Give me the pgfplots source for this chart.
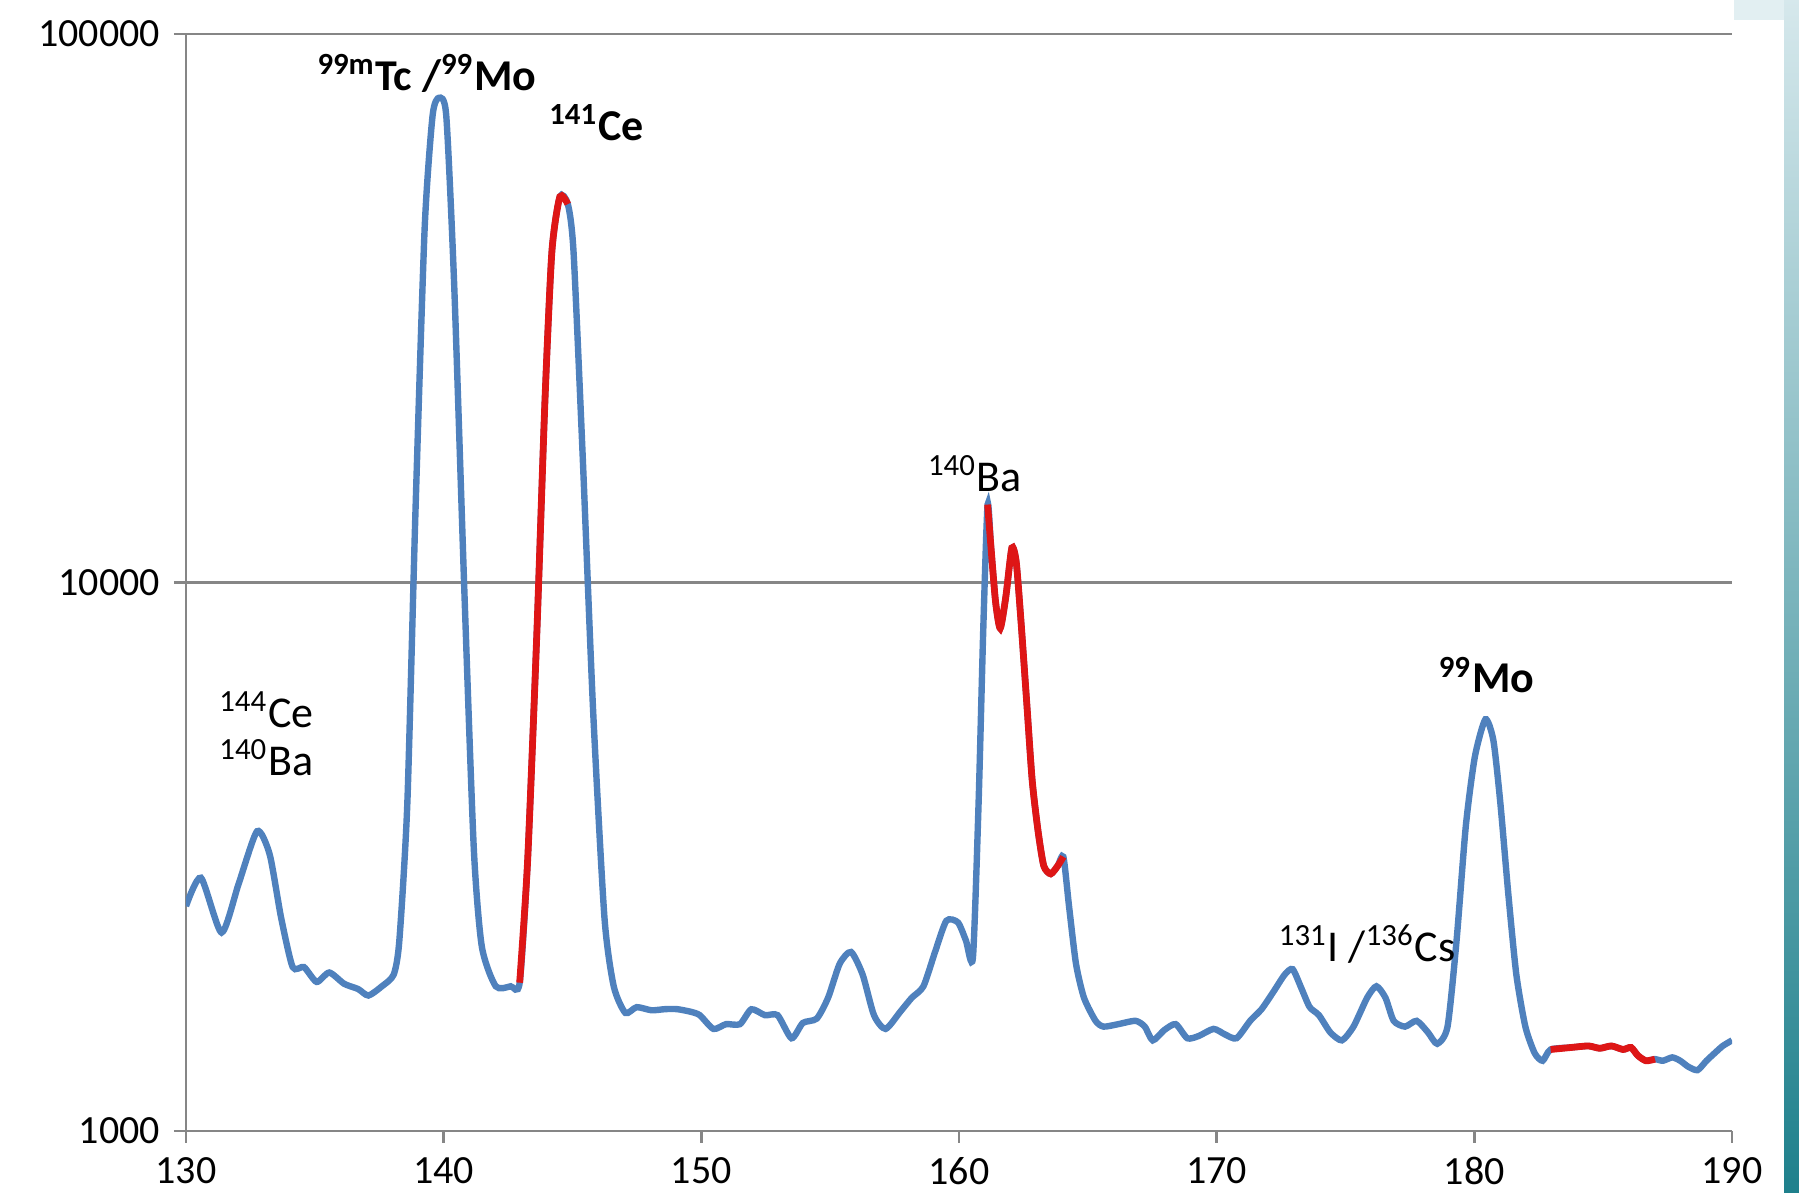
\documentclass[border=0pt]{standalone}
\usepackage{fontspec}
\setmainfont{Carlito}
\usepackage{pgfplots}
\usepackage{pgfplotstable}
\pgfplotsset{compat=1.18}

\definecolor{specblue}{RGB}{79,129,189}
\definecolor{specred}{RGB}{222,22,22}
\definecolor{gridgrey}{RGB}{134,134,134}
\definecolor{tealtop}{RGB}{214,232,236}
\definecolor{tealbot}{RGB}{30,128,140}

% gamma spectrum, counts vs channel energy
\pgfplotstableread{
x y
130.00 2570
130.58 2895
131.38 2300
132.05 2830
132.76 3520
133.25 3190
133.69 2450
134.14 1990
134.58 1990
135.07 1870
135.56 1945
136.14 1855
136.68 1815
137.08 1766
137.61 1837
138.06 1928
138.28 2225
138.59 3960
138.90 13200
139.26 44000
139.57 71000
139.82 76500
140.10 71000
140.41 34700
140.81 9440
141.17 3270
141.48 2170
142.02 1836
142.60 1836
142.95 1864
143.26 3120
143.62 8170
143.93 21400
144.20 40100
144.51 50500
144.82 48950
145.04 40100
145.40 16800
145.80 5840
146.24 2450
146.60 1836
147.05 1642
147.49 1682
148.07 1660
148.60 1668
149.05 1668
149.58 1650
149.94 1626
150.47 1535
150.96 1566
151.50 1566
151.94 1667
152.47 1626
152.96 1626
153.50 1476
153.94 1574
154.48 1603
154.92 1750
155.37 2018
155.81 2120
156.26 1928
156.70 1626
157.15 1535
157.73 1652
158.17 1750
158.62 1836
159.07 2120
159.51 2417
159.96 2400
160.27 2224
160.54 2070
160.76 3960
160.94 8170
161.11 13870
161.25 11450
161.42 9210
161.60 8250
161.82 9440
162.05 11560
162.22 10910
162.40 8570
162.62 6120
162.84 4360
163.07 3517
163.29 3043
163.56 2943
163.83 3043
164.05 3162
164.27 2570
164.54 2018
164.85 1750
165.30 1588
165.61 1550
166.18 1566
166.85 1588
167.21 1550
167.52 1463
167.97 1528
168.41 1566
168.86 1476
169.30 1490
169.88 1535
170.32 1500
170.77 1476
171.30 1588
171.74 1667
172.19 1790
172.64 1928
172.95 1972
173.30 1815
173.61 1682
173.97 1626
174.41 1513
174.86 1463
175.31 1550
175.84 1750
176.20 1836
176.55 1750
176.87 1588
177.31 1550
177.76 1588
178.20 1513
178.56 1442
178.96 1550
179.31 2224
179.67 3600
180.02 4810
180.43 5630
180.74 5150
181.01 3960
181.32 2700
181.63 1928
181.98 1550
182.34 1387
182.65 1343
182.96 1408
183.76 1420
184.43 1429
184.87 1415
185.32 1429
185.77 1408
186.08 1420
186.35 1372
186.66 1343
187.01 1352
187.32 1343
187.68 1362
187.99 1343
188.30 1310
188.66 1291
189.01 1343
189.33 1387
189.64 1429
190.00 1463
}\spectrum

\begin{document}
\begin{tikzpicture}
\begin{axis}[
    scale only axis,
    width=386.5pt,
    height=274.25pt,
    xmin=130, xmax=190,
    ymode=log,
    ymin=1000, ymax=100000,
    axis lines*=left,
    axis line style={gridgrey, line width=0.6pt},
    ymajorgrids,
    grid style={gridgrey, line width=0.6pt},
    yminorticks=false,
    tick align=outside,
    major tick length=3pt,
    tick style={gridgrey, line width=0.6pt},
    xtick={130,140,150,160,170,180,190},
    xticklabels={130,140,150,160,170,180,190},
    ytick={1000,10000,100000},
    yticklabels={1000,10000,100000},
    tick label style={font=\fontsize{10}{12}\selectfont},
]
\addplot[specblue, line width=1.6pt, smooth, tension=0.4] table {\spectrum};
\addplot[specred, line width=1.7pt, smooth, tension=0.4,
    restrict x to domain=142.9:144.85] table {\spectrum};
\addplot[specred, line width=1.7pt, smooth, tension=0.4,
    restrict x to domain=161.1:164.1] table {\spectrum};
\addplot[specred, line width=1.7pt, smooth, tension=0.4,
    restrict x to domain=182.9:187.05] table {\spectrum};

\node[font=\fontsize{11}{13}\selectfont\bfseries] at (axis cs:139.35,84900) {\textsuperscript{99m}Tc /\textsuperscript{99}Mo};
\node[font=\fontsize{11}{13}\selectfont\bfseries] at (axis cs:145.93,69000) {\textsuperscript{141}Ce};
\node[font=\fontsize{11}{13}\selectfont] at (axis cs:160.62,15800) {\textsuperscript{140}Ba};
\node[font=\fontsize{11}{13}\selectfont] at (axis cs:133.12,5860) {\textsuperscript{144}Ce};
\node[font=\fontsize{11}{13}\selectfont] at (axis cs:133.12,4790) {\textsuperscript{140}Ba};
\node[font=\fontsize{11}{13}\selectfont\bfseries] at (axis cs:180.47,6780) {\textsuperscript{99}Mo};
\node[font=\fontsize{11}{13}\selectfont] at (axis cs:175.84,2193) {\textsuperscript{131}I /\textsuperscript{136}Cs};
\end{axis}
% slide decoration at the right edge
\shade[top color=tealtop, bottom color=tealbot]
    ([xshift=13pt,yshift=-16pt]current axis.south east) rectangle ([xshift=18pt,yshift=9pt]current axis.north east);
\fill[tealtop!70!white]
    ([xshift=0.5pt,yshift=3.5pt]current axis.north east) rectangle ([xshift=13pt,yshift=9pt]current axis.north east);
\pgfresetboundingbox
\path[use as bounding box] ([xshift=-46.5pt,yshift=-15.25pt]current axis.south west) rectangle ([xshift=16.75pt,yshift=8.5pt]current axis.north east);
\end{tikzpicture}
\end{document}
